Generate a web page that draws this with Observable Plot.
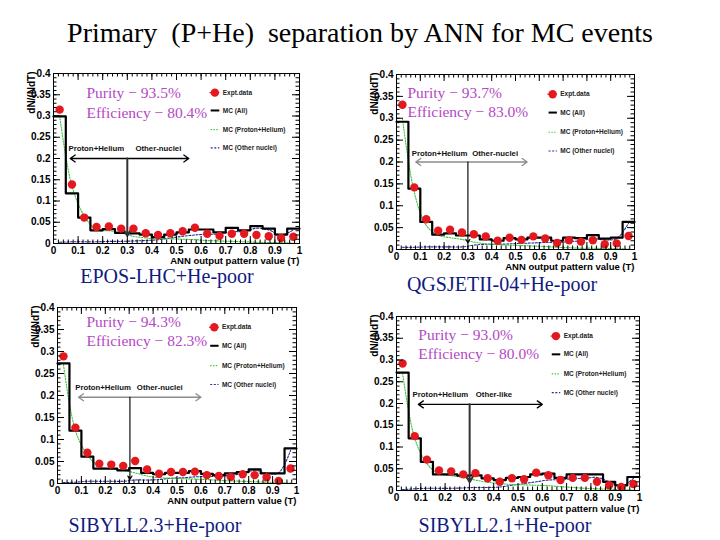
<!DOCTYPE html>
<html><head><meta charset="utf-8">
<script src="https://cdn.jsdelivr.net/npm/d3@7"></script>
<script src="https://cdn.jsdelivr.net/npm/@observablehq/plot@0.6"></script>
<style>
body{margin:0;background:#fff;}
#wrap{position:relative;width:720px;height:540px;overflow:hidden;background:#fff;}
.lbl{position:absolute;font-family:"Liberation Serif","Times New Roman",serif;white-space:pre;text-align:center;line-height:1;}
svg{overflow:visible}
</style></head><body><div id="wrap"></div>
<script>
// ---------- data ----------
const titleText = "Primary  (P+He)  separation by ANN for MC events";
const xTicks = [0,0.1,0.2,0.3,0.4,0.5,0.6,0.7,0.8,0.9,1];
const yTicks = [0,0.05,0.1,0.15,0.2,0.25,0.3,0.35,0.4];
const binEdges = [0,0.05,0.1,0.15,0.2,0.25,0.3,0.35,0.4,0.45,0.5,0.55,0.6,0.65,0.7,0.75,0.8,0.85,0.9,0.95];
const binCenters = [0.025,0.075,0.125,0.175,0.225,0.275,0.325,0.375,0.425,0.475,0.525,0.575,0.625,0.675,0.725,0.775,0.825,0.875,0.925,0.975];
const legendLabels = ["Expt.data","MC (All)","MC (Proton+Helium)","MC (Other nuclei)"];
const modelNames = ["EPOS-LHC+He-poor","QGSJETII-04+He-poor","SIBYLL2.3+He-poor","SIBYLL2.1+He-poor"];
const purity = ["93.5%","93.7%","94.3%","93.0%"];
const efficiency = ["80.4%","83.0%","82.3%","80.0%"];
const classLabels = [["Proton+Helium","Other-nuclei"],["Proton+Helium","Other-nuclei"],["Proton+Helium","Other-nuclei"],["Proton+Helium","Other-like"]];

// MC (All) histograms
const eposAll  = [0.299,0.118,0.061,0.031,0.034,0.025,0.024,0.021,0.015,0.021,0.026,0.033,0.033,0.026,0.037,0.031,0.041,0.035,0.021,0.035];
const qgsAll   = [0.292,0.139,0.063,0.034,0.037,0.032,0.032,0.023,0.020,0.026,0.023,0.027,0.027,0.020,0.027,0.026,0.033,0.025,0.027,0.063];
const sib23All = [0.273,0.120,0.061,0.034,0.034,0.030,0.035,0.024,0.021,0.024,0.024,0.028,0.022,0.019,0.023,0.026,0.032,0.023,0.023,0.080];
const sib21All = [0.271,0.120,0.066,0.037,0.037,0.034,0.035,0.028,0.024,0.029,0.031,0.037,0.039,0.029,0.037,0.037,0.037,0.020,0.012,0.031];
// Experimental data
const eposData  = [0.315,0.139,0.061,0.039,0.040,0.035,0.035,0.024,0.020,0.024,0.029,0.037,0.023,0.018,0.023,0.023,0.020,0.017,0.013,0.016];
const qgsData   = [0.331,0.142,0.069,0.043,0.045,0.039,0.035,0.030,0.020,0.027,0.022,0.030,0.025,0.015,0.021,0.018,0.021,0.012,0.014,0.031];
const sib23Data = [0.289,0.127,0.070,0.045,0.043,0.040,0.051,0.032,0.022,0.026,0.026,0.027,0.019,0.017,0.015,0.021,0.019,0.014,0.006,0.034];
const sib21Data = [0.292,0.125,0.071,0.046,0.044,0.037,0.040,0.028,0.020,0.028,0.026,0.041,0.035,0.024,0.029,0.029,0.020,0.012,0.008,0.015];
// MC (Proton+Helium)
const eposPHe  = [0.300,0.135,0.065,0.032,0.030,0.025,0.017,0.013,0.011,0.011,0.010,0.009,0.007,0.006,0.005,0.004,0.003,0.002,0.002,0.001];
const qgsPHe   = [0.300,0.130,0.055,0.033,0.027,0.023,0.017,0.013,0.011,0.010,0.009,0.008,0.007,0.005,0.004,0.003,0.003,0.002,0.002,0.001];
const sib23PHe = [0.270,0.120,0.065,0.038,0.033,0.030,0.024,0.017,0.013,0.012,0.011,0.010,0.009,0.007,0.006,0.005,0.004,0.003,0.002,0.001];
const sib21PHe = [0.270,0.120,0.062,0.038,0.034,0.030,0.024,0.019,0.016,0.014,0.013,0.012,0.011,0.009,0.007,0.005,0.004,0.003,0.002,0.001];
// MC (Other nuclei)
const eposOther  = [0.003,0.004,0.004,0.004,0.005,0.005,0.006,0.007,0.009,0.013,0.017,0.020,0.022,0.022,0.028,0.028,0.036,0.032,0.020,0.032];
const qgsOther   = [0.005,0.005,0.006,0.006,0.006,0.006,0.010,0.012,0.012,0.013,0.014,0.015,0.016,0.016,0.018,0.020,0.025,0.022,0.025,0.060];
const sib23Other = [0.002,0.003,0.005,0.005,0.005,0.005,0.008,0.008,0.009,0.012,0.013,0.015,0.016,0.016,0.019,0.022,0.030,0.023,0.024,0.075];
const sib21Other = [0.002,0.004,0.005,0.005,0.005,0.006,0.007,0.007,0.008,0.012,0.016,0.020,0.024,0.025,0.027,0.028,0.030,0.020,0.010,0.028];

const allSeries = [eposAll,qgsAll,sib23All,sib21All];
const dataSeries = [eposData,qgsData,sib23Data,sib21Data];
const pheSeries = [eposPHe,qgsPHe,sib23PHe,sib21PHe];
const otherSeries = [eposOther,qgsOther,sib23Other,sib21Other];

// ---------- layout ----------
const panels = [
  {left:0,  top:55,  W:315, H:220, ml:53, mr:16, mt:18, mb:32, xl:17,
   arr:{y:0.2,l:0.068,r:0.55,cx:0.3,cb:0.018,ly:0.223,l1:0.061,l2:0.333,hc:"#000",vc:"#333",vw:2},
   txt:{x:0.134,py:0.343,ey:0.296}},
  {left:350,top:55,  W:300, H:225, ml:46, mr:16, mt:19, mb:31, xl:17,
   arr:{y:0.2,l:0.081,r:0.549,cx:0.3,cb:0.015,ly:0.22,l1:0.064,l2:0.318,hc:"#8c8c8c",vc:"#111",vw:1.2},
   txt:{x:0.046,py:0.347,ey:0.302}},
  {left:0,  top:290, W:315, H:230, ml:57, mr:19, mt:17, mb:37, xl:17.5,
   arr:{y:0.196,l:0.088,r:0.6,cx:0.303,cb:0.009,ly:0.218,l1:0.074,l2:0.332,hc:"#8c8c8c",vc:"#111",vw:1.2},
   txt:{x:0.121,py:0.355,ey:0.312}},
  {left:350,top:295, W:300, H:230, ml:46, mr:11, mt:21, mb:35, xl:18,
   arr:{y:0.198,l:0.09,r:0.6,cx:0.301,cb:0.019,ly:0.221,l1:0.066,l2:0.326,hc:"#000",vc:"#333",vw:2},
   txt:{x:0.09,py:0.346,ey:0.303}}
];
const labelPos = [{cx:167,cy:276},{cx:502,cy:284},{cx:155,cy:525},{cx:505,cy:525}];

const RED = "#e3191f", GREEN = "#3cc83c", BLUE = "#2b2b9e", PURPLE = "#b548c6";
const fmt = d => String(+(+d).toFixed(2));
const xMinor = d3.range(0, 1.0001, 0.02);
const yMinor = d3.range(0, 0.4001, 0.01);

const wrap = document.getElementById("wrap");

function makePanel(i) {
  const c = panels[i];
  const pw = c.W - c.ml - c.mr, ph = c.H - c.mt - c.mb;
  const allV = allSeries[i];
  const hist = binEdges.map((x,j) => ({x, y: allV[j]}));
  hist.push({x: 1, y: allV[allV.length-1]});
  const pts = arr => binCenters.map((x,j) => ({x, y: arr[j]}));
  const a = c.arr;
  const lx0 = 0.636, lx1 = 0.676, ltx = 0.688, lys = [0.355,0.313,0.268,0.225];
  return Plot.plot({
    width: c.W, height: c.H, marginLeft: c.ml, marginRight: c.mr, marginTop: c.mt, marginBottom: c.mb,
    x: {domain:[0,1]}, y: {domain:[0,0.4]},
    style: {fontFamily:"'Liberation Sans', Arial, sans-serif", fontWeight:"bold", fontSize:"10px", background:"transparent", overflow:"visible", color:"#000"},
    marks: [
      Plot.line(pts(otherSeries[i]), {x:"x", y:"y", curve:"catmull-rom", stroke:BLUE, strokeWidth:1.1, strokeDasharray:"2,1.6"}),
      Plot.line(pts(pheSeries[i]), {x:"x", y:"y", curve:"catmull-rom", stroke:GREEN, strokeWidth:1.1, strokeDasharray:"1.4,1.4"}),
      Plot.line(hist, {x:"x", y:"y", curve:"step-after", stroke:"#000", strokeWidth:2.2}),
      // separation arrows
      Plot.arrow([{x1:a.cx,y1:a.y,x2:a.l,y2:a.y},{x1:a.cx,y1:a.y,x2:a.r,y2:a.y}], {x1:"x1",y1:"y1",x2:"x2",y2:"y2", stroke:a.hc, strokeWidth:1.3, headLength:7, headAngle:70}),
      Plot.arrow([{x1:a.cx,y1:a.y,x2:a.cx,y2:a.cb}], {x1:"x1",y1:"y1",x2:"x2",y2:"y2", stroke:a.vc, strokeWidth:a.vw, headLength:5, headAngle:60}),
      Plot.text(classLabels[i], {x:(d,j)=> j ? a.l2 : a.l1, y:a.ly, textAnchor:"start", lineAnchor:"middle", fontSize:7.8, fill:"#111"}),
      // data points
      Plot.dot(pts(dataSeries[i]), {x:"x", y:"y", r:4.2, fill:RED, stroke:"none"}),
      // purity / efficiency
      Plot.text([`Purity − ${purity[i]}`, `Efficiency − ${efficiency[i]}`], {x:c.txt.x, y:(d,j)=> j ? c.txt.ey : c.txt.py, textAnchor:"start", lineAnchor:"bottom", fontFamily:"'Liberation Serif','Times New Roman',serif", fontWeight:"normal", fontSize:15.5, fill:PURPLE}),
      // legend
      Plot.ruleY([lys[0]], {x1:lx0, x2:lx1, stroke:RED, strokeWidth:1.2}),
      Plot.dot([{x:(lx0+lx1)/2, y:lys[0]}], {x:"x", y:"y", r:4.2, fill:RED, stroke:"none"}),
      Plot.ruleY([lys[1]], {x1:lx0+0.005, x2:lx1, stroke:"#000", strokeWidth:2}),
      Plot.ruleY([lys[2]], {x1:lx0+0.005, x2:lx1, stroke:GREEN, strokeWidth:1.1, strokeDasharray:"1.4,1.4"}),
      Plot.ruleY([lys[3]], {x1:lx0+0.005, x2:lx1, stroke:BLUE, strokeWidth:1.1, strokeDasharray:"2,1.6"}),
      Plot.text(legendLabels, {x:ltx, y:(d,j)=>lys[j], textAnchor:"start", lineAnchor:"middle", fontSize:6.5, fill:"#222"}),
      // frame & ticks (inside, ROOT style)
      Plot.frame({stroke:"#000", strokeWidth:1}),
      Plot.tickX(xTicks, {x:d=>d, insetTop: ph-7, stroke:"#000"}),
      Plot.tickX(xTicks, {x:d=>d, insetBottom: ph-7, stroke:"#000"}),
      Plot.tickX(xMinor, {x:d=>d, insetTop: ph-3.5, stroke:"#000"}),
      Plot.tickX(xMinor, {x:d=>d, insetBottom: ph-3.5, stroke:"#000"}),
      Plot.tickY(yTicks, {y:d=>d, insetRight: pw-7, stroke:"#000"}),
      Plot.tickY(yTicks, {y:d=>d, insetLeft: pw-7, stroke:"#000"}),
      Plot.tickY(yMinor, {y:d=>d, insetRight: pw-3.5, stroke:"#000"}),
      Plot.tickY(yMinor, {y:d=>d, insetLeft: pw-3.5, stroke:"#000"}),
      Plot.axisX(xTicks, {anchor:"bottom", tickSize:0, tickPadding:3, tickFormat:fmt, label:null, fontSize:10}),
      Plot.axisY(yTicks, {anchor:"left", tickSize:0, tickPadding:3, tickFormat:fmt, label:null, fontSize:10}),
      Plot.text(["dN/(NdT)"], {frameAnchor:"top-left", dx:-22, dy:-2, rotate:-90, textAnchor:"end", lineAnchor:"middle", fontSize:10}),
      Plot.text(["ANN output pattern value (T)"], {frameAnchor:"bottom-right", dy:c.xl, textAnchor:"end", lineAnchor:"middle", fontSize:9.5})
    ]
  });
}

// title
const t = document.createElement("div");
t.className = "lbl";
t.textContent = titleText;
t.style.cssText += "left:0;width:720px;top:19px;font-size:28px;color:#000;";
wrap.appendChild(t);

panels.forEach((c,i) => {
  const svg = makePanel(i);
  svg.style.position = "absolute";
  svg.style.left = c.left + "px";
  svg.style.top = c.top + "px";
  wrap.appendChild(svg);
  const l = document.createElement("div");
  l.className = "lbl";
  l.textContent = modelNames[i];
  const fs = 20;
  l.style.cssText += `left:${labelPos[i].cx-160}px;width:320px;top:${labelPos[i].cy - fs/2}px;font-size:${fs}px;color:#101a80;`;
  wrap.appendChild(l);
});
</script>
</body></html>
